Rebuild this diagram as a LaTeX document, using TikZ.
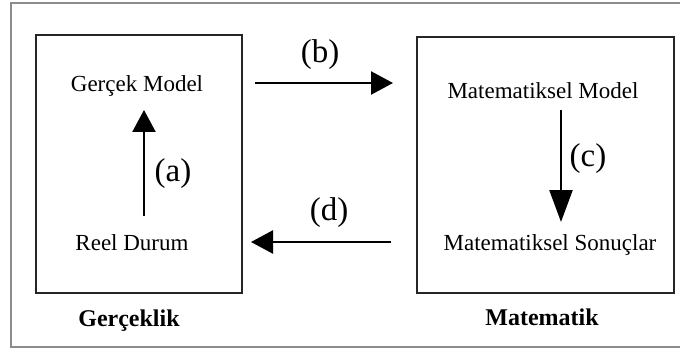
\documentclass[tikz,border=0pt]{standalone}
\usepackage{fontspec}
\setmainfont{Liberation Serif}
\usetikzlibrary{arrows.meta}
\begin{document}
\begin{tikzpicture}[x=1pt,y=-1pt,
  box/.style={draw=black!85,line width=2.2pt},
  txt/.style={anchor=base,inner sep=0pt,font=\fontsize{23}{26}\selectfont},
  ttl/.style={anchor=base,inner sep=0pt,font=\fontsize{24}{28}\selectfont\bfseries},
  lbl/.style={anchor=base,inner sep=0pt,font=\fontsize{33}{38}\selectfont},
  conn/.style={line width=2.4pt,-{Triangle[length=22pt,width=23pt]}}]
\useasboundingbox (0,0) rectangle (680,350);
\draw[draw=black!45,line width=1.5pt] (11,3) rectangle (684,347);
\node[box,minimum width=206pt,minimum height=258pt,inner sep=0pt] (left) at (139,164) {};
\node[box,minimum width=257pt,minimum height=256pt,inner sep=0pt] (right) at (545.5,165) {};
\node[txt] (gm) at (137,92) {Gerçek Model};
\node[txt] (rd) at (132,250) {Reel Durum};
\node[ttl] (gk) at (129,326) {Gerçeklik};
\node[txt] (mm) at (543,99) {Matematiksel Model};
\node[txt] (ms) at (550,250) {Matematiksel Sonuçlar};
\node[ttl] (mt) at (542,325) {Matematik};
\node[lbl] (la) at (173,182) {(a)};
\node[lbl] (lb) at (320,63) {(b)};
\node[lbl] (lc) at (588,167) {(c)};
\node[lbl] (ld) at (329,220) {(d)};
\coordinate (a1) at (144,216);
\coordinate (a2) at (144,110);
\coordinate (b1) at (255,83);
\coordinate (b2) at (393,83);
\coordinate (c1) at (561,110);
\coordinate (c2) at (561,222);
\coordinate (d1) at (391,242);
\coordinate (d2) at (251,242);
\draw[conn] (a1) -- (a2);
\draw[conn] (b1) -- (b2);
\draw[conn,-{Triangle[length=32pt,width=23pt]}] (c1) -- (c2);
\draw[conn] (d1) -- (d2);
\end{tikzpicture}
\end{document}
